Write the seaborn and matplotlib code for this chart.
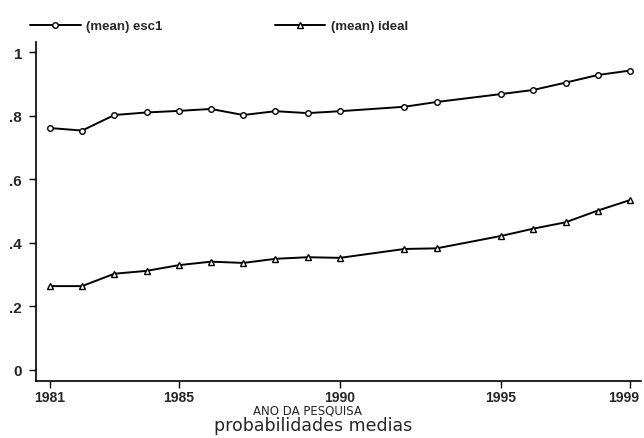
import matplotlib
matplotlib.use("Agg")
import matplotlib.pyplot as plt
import matplotlib.transforms as mtransforms
import seaborn as sns
import pandas as pd

years = [1981, 1982, 1983, 1984, 1985, 1986, 1987, 1988, 1989, 1990,
         1992, 1993, 1995, 1996, 1997, 1998, 1999]
esc1 = [0.762, 0.754, 0.803, 0.811, 0.816, 0.822, 0.803, 0.815, 0.809, 0.815,
        0.829, 0.844, 0.869, 0.882, 0.905, 0.929, 0.943]
ideal = [0.264, 0.264, 0.303, 0.312, 0.330, 0.341, 0.337, 0.350, 0.355, 0.353,
         0.381, 0.383, 0.422, 0.445, 0.465, 0.502, 0.535]
series_names = ["(mean) esc1", "(mean) ideal"]
xticks = [1981, 1985, 1990, 1995, 1999]
yticks = [0, 0.2, 0.4, 0.6, 0.8, 1.0]
ytick_labels = ["0", ".2", ".4", ".6", ".8", "1"]
xlabel = "ANO DA PESQUISA"
caption = "probabilidades medias"

df = pd.DataFrame({
    "year": years * 2,
    "value": esc1 + ideal,
    "series": [series_names[0]] * len(years) + [series_names[1]] * len(years),
})

sns.set_style("ticks")
plt.rcParams["font.family"] = ["Liberation Sans", "DejaVu Sans"]

fig = plt.figure(figsize=(6.44, 4.39), dpi=100)
ax = fig.add_axes([36 / 644, 1 - 381.7 / 439, (641 - 36) / 644, (381.7 - 43) / 439])

sns.lineplot(data=df, x="year", y="value", hue="series", style="series",
             palette=["black", "black"], markers=["o", "^"], dashes=False,
             markerfacecolor="white", markeredgecolor="black", markersize=4,
             markeredgewidth=1.0, linewidth=1.4, ax=ax, legend=True)

ax.set_xlim(1980.57, 1999.34)
ax.set_ylim(-0.034, 1.033)
ax.set_xticks(xticks)
ax.set_xticklabels([str(x) for x in xticks], fontweight="bold", fontsize=10)
ax.set_yticks(yticks)
ax.set_yticklabels(ytick_labels, fontweight="bold", fontsize=11)
ax.tick_params(axis="both", direction="out", length=5, width=1, color="black")
ax.tick_params(axis="y", pad=5)
ax.tick_params(axis="x", pad=2)
# nudge the last x tick label so it stays inside the figure
last = ax.get_xticklabels()[-1]
last.set_transform(last.get_transform() +
                   mtransforms.ScaledTranslation(-6 / 100, 0, fig.dpi_scale_trans))
for side in ["top", "right"]:
    ax.spines[side].set_visible(False)
for side in ["left", "bottom"]:
    ax.spines[side].set_color("black")
    ax.spines[side].set_linewidth(1.2)
ax.set_xlabel("")
ax.set_ylabel("")

handles, labels = ax.get_legend_handles_labels()
ax.legend_.remove()
leg = fig.legend(handles, labels, loc="center left", bbox_to_anchor=(30 / 644, 1 - 27 / 439),
                 ncol=2, frameon=False, handlelength=3.85, columnspacing=8.5,
                 handletextpad=0.4, borderpad=0, borderaxespad=0,
                 prop={"weight": "bold", "size": 9.5})

fig.text(307 / 644, 1 - 414.5 / 439, xlabel, ha="center", va="baseline", fontsize=8.5,
         family=["DejaVu Sans"])
fig.text(313 / 644, 1 - 431.5 / 439, caption, ha="center", va="baseline", fontsize=12.5,
         family=["DejaVu Sans"])

fig.savefig("out.png", dpi=100)
